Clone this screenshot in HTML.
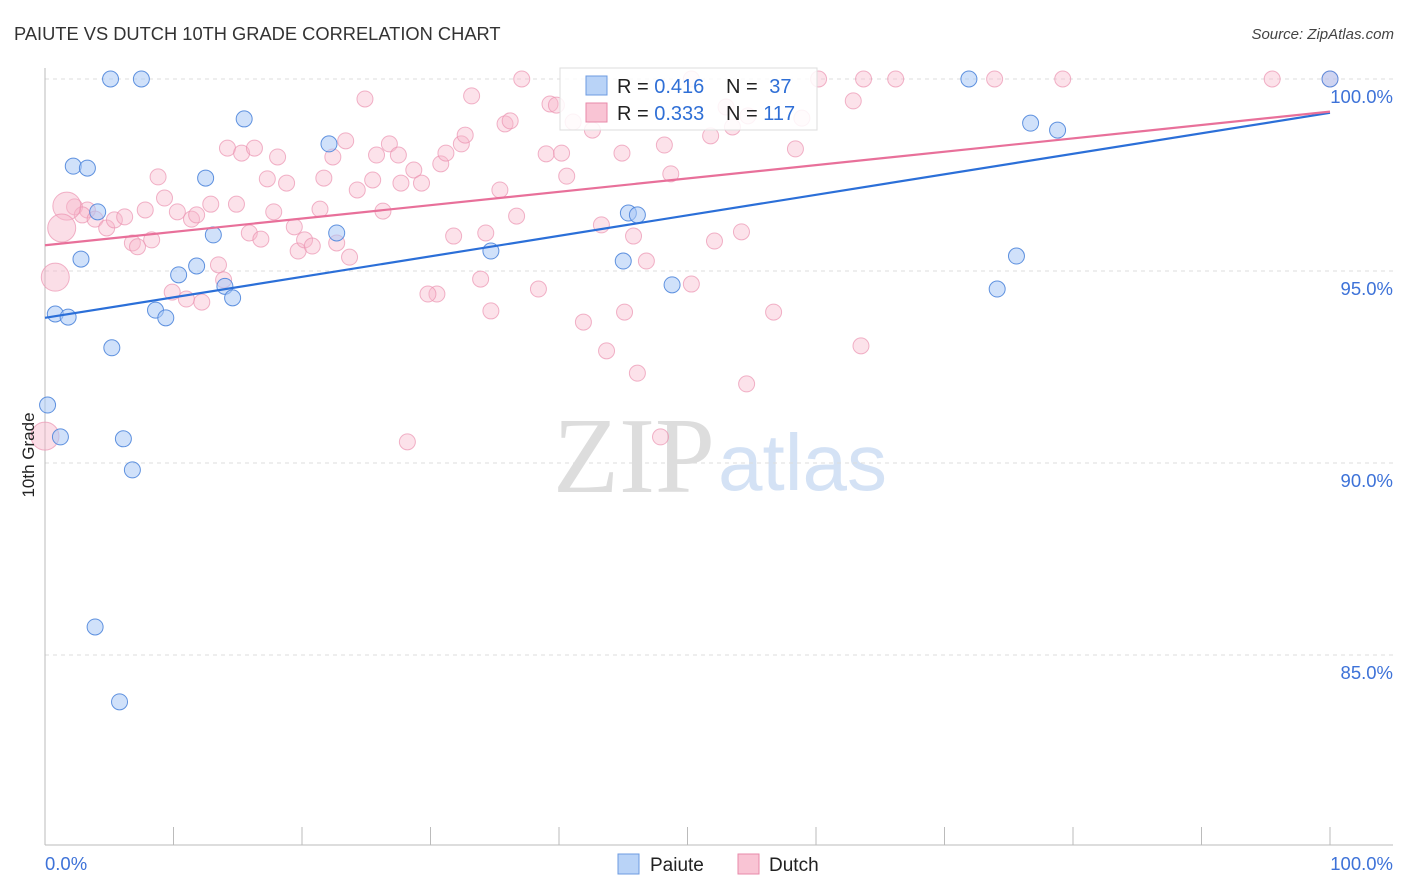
<!DOCTYPE html>
<html><head><meta charset="utf-8">
<style>
body{margin:0;background:#fff;font-family:"Liberation Sans",sans-serif;}
svg{display:block}
</style></head>
<body>
<svg id="chart" width="1406" height="892">
<text x="14" y="40" font-size="18.3" fill="#333">PAIUTE VS DUTCH 10TH GRADE CORRELATION CHART</text>
<text x="1394" y="39" font-size="15" fill="#444" font-style="italic" text-anchor="end">Source: ZipAtlas.com</text>
<g>
<text x="553" y="492" font-family="Liberation Serif,serif" font-size="108" fill="#ddd">ZIP</text>
<text x="718" y="490" font-size="80" fill="#d4e2f5">atlas</text>
</g>
<g id="grid"></g>
<g id="axes"></g>
<g id="marks"></g>
<text transform="translate(34,455) rotate(-90)" font-size="17" fill="#222" text-anchor="middle">10th Grade</text>
<g>
<rect x="560" y="68" width="257" height="62" fill="#fff" fill-opacity="0.85" stroke="#ddd"/>
<rect x="586" y="76" width="21" height="19" fill="#b9d3f7" stroke="#6d9be0"/>
<rect x="586" y="103" width="21" height="19" fill="#f9c4d4" stroke="#e88aaa"/>
<text x="617" y="93" font-size="20" fill="#222">R = <tspan fill="#2f6fd6">0.416</tspan></text>
<text x="726" y="93" font-size="20" fill="#222">N = <tspan fill="#2f6fd6" dx="6">37</tspan></text>
<text x="617" y="120" font-size="20" fill="#222">R = <tspan fill="#2f6fd6">0.333</tspan></text>
<text x="726" y="120" font-size="20" fill="#222">N = <tspan fill="#2f6fd6">117</tspan></text>
</g>
<g>
<rect x="618" y="854" width="21" height="20" fill="#b9d3f7" stroke="#6d9be0"/>
<text x="650" y="871" font-size="19" fill="#222">Paiute</text>
<rect x="738" y="854" width="21" height="20" fill="#f9c4d4" stroke="#e88aaa"/>
<text x="769" y="871" font-size="19" fill="#222">Dutch</text>
</g>
</svg>
<script>
const yTicks=[100,95,90,85];
const yTickLabels=["100.0%","95.0%","90.0%","85.0%"];
const xTicks=[0,10,20,30,40,50,60,70,80,90,100];
const paiuteX=[5.1,7.5,15.5,2.2,3.3,12.5,4.1,13.1,2.8,10.4,11.8,14.0,14.6,0.8,1.8,8.6,9.4,5.2,0.2,1.2,6.1,6.8,3.9,5.8,22.1,22.7,34.7,45.4,46.1,45.0,48.8,71.9,76.7,78.8,75.6,74.1,100];
const paiuteY=[100,100,98.96,97.73,97.68,97.42,96.54,95.94,95.31,94.9,95.13,94.6,94.3,93.88,93.8,93.98,93.78,93.0,91.51,90.68,90.63,89.82,85.73,83.78,98.31,95.99,95.52,96.51,96.46,95.26,94.64,100,98.85,98.67,95.39,94.53,100];
const dutchX=[2.3,3.3,2.9,3.9,4.8,5.4,6.2,7.8,6.8,7.2,8.3,8.8,9.3,10.3,11.4,11.8,12.9,14.2,14.9,15.3,16.3,15.9,16.8,17.3,18.1,18.8,17.8,19.4,19.7,20.2,20.8,21.4,21.7,22.4,22.7,23.4,23.7,24.3,24.9,25.5,25.8,26.3,26.8,27.5,27.7,28.7,29.3,30.8,31.2,32.4,32.7,33.2,31.8,30.5,29.8,28.2,33.9,34.7,34.3,35.4,35.8,36.2,36.7,37.1,38.4,39,39.3,39.8,40.2,40.6,41.1,41.9,42.6,43.3,43.7,44.9,45.1,45.8,46.1,46.8,47.9,48.2,48.7,50.3,50.3,51.8,52.1,53,53.5,54.2,54.7,54.6,56.7,58.4,58.9,60.2,62.9,63.5,63.7,66.2,73.9,79.2,95.5,100,13.5,13.9,12.2,11,9.9];
const dutchY=[96.67,96.59,96.46,96.35,96.12,96.33,96.41,96.59,95.73,95.63,95.81,97.45,96.9,96.54,96.35,96.46,96.74,98.2,96.74,98.07,98.2,95.99,95.83,97.4,97.97,97.29,96.54,96.15,95.52,95.81,95.65,96.61,97.42,97.97,95.73,98.39,95.36,97.11,99.48,97.37,98.02,96.56,98.31,98.02,97.29,97.63,97.29,97.79,98.07,98.31,98.54,99.56,95.91,94.4,94.4,90.55,94.79,93.96,95.99,97.11,98.83,98.91,96.43,100,94.53,98.05,99.35,99.32,98.07,97.47,98.88,93.67,98.67,96.2,92.92,98.07,93.93,95.91,92.34,95.26,90.68,98.28,97.53,100,94.66,98.52,95.78,99.27,98.75,96.02,99.04,92.06,93.93,98.18,98.98,100,99.43,93.05,100,100,100,100,100,100,95.16,94.77,94.19,94.27,94.45];
const dutchBigX=[1.7,1.3,0.8,0];
const dutchBigY=[96.69,96.12,94.84,90.7];
const paiuteLine=[93.78,99.12];
const dutchLine=[95.67,99.15];

const NS="http://www.w3.org/2000/svg";
const X0=45,X1=1330,Y100=79,PX=38.4;
const xs=v=>X0+(X1-X0)*v/100;
const ys=v=>Y100+(100-v)*PX;
function mk(tag,attrs,parent){const e=document.createElementNS(NS,tag);for(const k in attrs)e.setAttribute(k,attrs[k]);parent.appendChild(e);return e;}
const grid=document.getElementById('grid'),axes=document.getElementById('axes'),marks=document.getElementById('marks');
yTicks.forEach((t,i)=>{
 const l=mk('line',{x1:X0,x2:1393,y1:ys(t),y2:ys(t),stroke:'#ddd','stroke-dasharray':'4,4'},grid);
 
 
 const tx=mk('text',{x:1393,y:ys(t)+24,'text-anchor':'end','font-size':18.5,fill:'#3d72d8'},axes);
 tx.textContent=yTickLabels[i];
 
 
});
let a=mk('line',{x1:X0,x2:X0,y1:68,y2:845,stroke:'#bbb'},axes);


a=mk('line',{x1:X0,x2:1393,y1:845,y2:845,stroke:'#bbb'},axes);


xTicks.forEach(t=>{
 const l=mk('line',{x1:xs(t),x2:xs(t),y1:827,y2:845,stroke:'#bbb'},axes);
 
 
});
let t=mk('text',{x:45,y:870,'font-size':18.5,fill:'#3d72d8'},axes);t.textContent='0.0%';


t=mk('text',{x:1393,y:870,'font-size':18.5,fill:'#3d72d8','text-anchor':'end'},axes);t.textContent='100.0%';



dutchX.forEach((x,i)=>{
 const c=mk('circle',{cx:xs(x),cy:ys(dutchY[i]),r:8,fill:'#f7b6ca','fill-opacity':0.4,stroke:'#eb93b0','stroke-opacity':0.7},marks);
 
 
});
dutchBigX.forEach((x,i)=>{
 const c=mk('circle',{cx:xs(x),cy:ys(dutchBigY[i]),r:14,fill:'#f7b6ca','fill-opacity':0.45,stroke:'#eb93b0','stroke-opacity':0.7},marks);
 
 
});
paiuteX.forEach((x,i)=>{
 const c=mk('circle',{cx:xs(x),cy:ys(paiuteY[i]),r:8,fill:'#a9c8f5','fill-opacity':0.55,stroke:'#4f86dc','stroke-opacity':0.9},marks);
 
 
});
let ln=mk('line',{x1:xs(0),y1:ys(paiuteLine[0]),x2:xs(100),y2:ys(paiuteLine[1]),stroke:'#2b6fd8','stroke-width':2.2},marks);


ln=mk('line',{x1:xs(0),y1:ys(dutchLine[0]),x2:xs(100),y2:ys(dutchLine[1]),stroke:'#e8709a','stroke-width':2.2},marks);


</script>
</body></html>
